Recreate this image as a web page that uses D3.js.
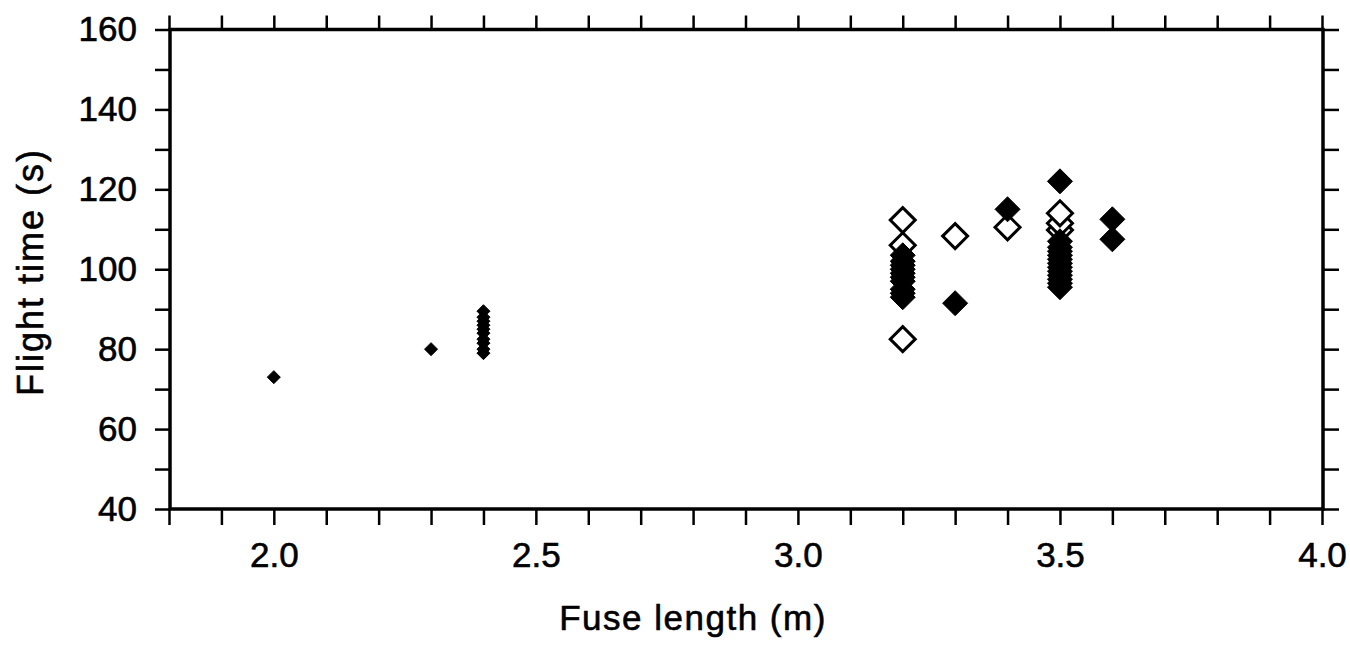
<!DOCTYPE html>
<html>
<head>
<meta charset="utf-8">
<script src="https://cdn.jsdelivr.net/npm/d3@7/dist/d3.min.js"></script>
<style>
  body { margin: 0; background: #fff; }
  svg { display: block; font-family: "Liberation Sans", Arial, Helvetica, sans-serif; }
  svg text { stroke: #000; stroke-width: 0.6; }
  .tick line { stroke: #000; stroke-width: 2.5; }
  .domain { display: none; }
  .tick text { font-size: 35px; fill: #000; }
</style>
</head>
<body>
<div id="chart"></div>
<script>
// Small filled diamonds (short fuses)
var smallX = [2.0, 2.3, 2.4, 2.4, 2.4, 2.4, 2.4, 2.4, 2.4, 2.4, 2.4, 2.4];
var smallY = [73, 80, 79, 80, 81.5, 82.5, 84, 85, 86, 87, 88, 89.5];

// Large filled diamonds
var filledX = [3.2, 3.2, 3.2, 3.2, 3.2, 3.2, 3.2, 3.2, 3.2, 3.2,
               3.3, 3.4,
               3.5, 3.5, 3.5, 3.5, 3.5, 3.5, 3.5, 3.5, 3.5, 3.5, 3.5, 3.5, 3.5,
               3.6, 3.6];
var filledY = [93, 94, 95, 97, 98, 99, 100, 101, 102, 103.5,
               91.5, 115,
               95.5, 96.5, 97.5, 98.5, 99.5, 100.5, 101.5, 102.5, 103.5, 104.5, 105.5, 107, 122,
               107.5, 112.5];

// Large open diamonds
var openX = [3.2, 3.2, 3.2, 3.3, 3.4, 3.5, 3.5, 3.5];
var openY = [82.5, 106, 112.3, 108.3, 110.5, 109.8, 111.5, 114];

var xTicks = d3.range(18, 41).map(function(d) { return d / 10; });
var yTicks = d3.range(40, 161, 10);

var W = 1350, H = 649;
var mLeft = 170, mRight = 1323, mTop = 29.5, mBottom = 509;

var svg = d3.select('#chart').append('svg')
  .attr('width', W).attr('height', H);

var x = d3.scaleLinear().domain([1.8, 4.0]).range([mLeft - 1, mRight - 1]);
var y = d3.scaleLinear().domain([40, 160]).range([mBottom, mTop]);

function xLabel(d) {
  return Math.abs(Math.round(d * 10) % 5) === 0 ? d3.format('.1f')(d) : '';
}
function yLabel(d) {
  return d % 20 === 0 ? d : '';
}

svg.append('g')
  .attr('transform', 'translate(0,' + mBottom + ')')
  .call(d3.axisBottom(x).tickValues(xTicks).tickSizeInner(16).tickSizeOuter(0)
    .tickPadding(17).tickFormat(xLabel));

svg.append('g')
  .attr('transform', 'translate(0,' + mTop + ')')
  .call(d3.axisTop(x).tickValues(xTicks).tickSizeInner(14).tickSizeOuter(0)
    .tickFormat(''));

svg.append('g')
  .attr('transform', 'translate(' + mLeft + ',0)')
  .call(d3.axisLeft(y).tickValues(yTicks).tickSizeInner(15).tickSizeOuter(0)
    .tickPadding(18).tickFormat(yLabel));

svg.append('g')
  .attr('transform', 'translate(' + mRight + ',0)')
  .call(d3.axisRight(y).tickValues(yTicks).tickSizeInner(16).tickSizeOuter(0)
    .tickFormat(''));

// Frame
svg.append('rect')
  .attr('x', mLeft).attr('y', mTop)
  .attr('width', mRight - mLeft).attr('height', mBottom - mTop)
  .attr('fill', 'none')
  .attr('stroke', '#000')
  .attr('stroke-width', 3.5);

function diamond(r) {
  return 'M0,' + (-r) + 'L' + r + ',0L0,' + r + 'L' + (-r) + ',0Z';
}

function plot(xs, ys, r, fill, sw) {
  svg.append('g')
    .selectAll('path')
    .data(xs.map(function(d, i) { return {x: d, y: ys[i]}; }))
    .enter()
    .append('path')
      .attr('d', diamond(r))
      .attr('transform', function(d) {
        return 'translate(' + x(d.x) + ',' + y(d.y) + ')';
      })
      .attr('fill', fill)
      .attr('stroke', '#000')
      .attr('stroke-width', sw)
      .attr('stroke-linejoin', 'miter');
}

plot(smallX, smallY, 6.5, '#000', 1);
plot(openX, openY, 12.5, '#fff', 3);
plot(filledX, filledY, 12.5, '#000', 1);

// Axis titles
svg.append('text')
  .attr('x', 693)
  .attr('y', 630)
  .attr('text-anchor', 'middle')
  .attr('font-size', 35)
  .attr('letter-spacing', 1.5)
  .text('Fuse length (m)');

svg.append('text')
  .attr('transform', 'translate(43,' + 272 + ') rotate(-90)')
  .attr('text-anchor', 'middle')
  .attr('font-size', 36)
  .attr('letter-spacing', 2)
  .text('Flight time (s)');
</script>
</body>
</html>
